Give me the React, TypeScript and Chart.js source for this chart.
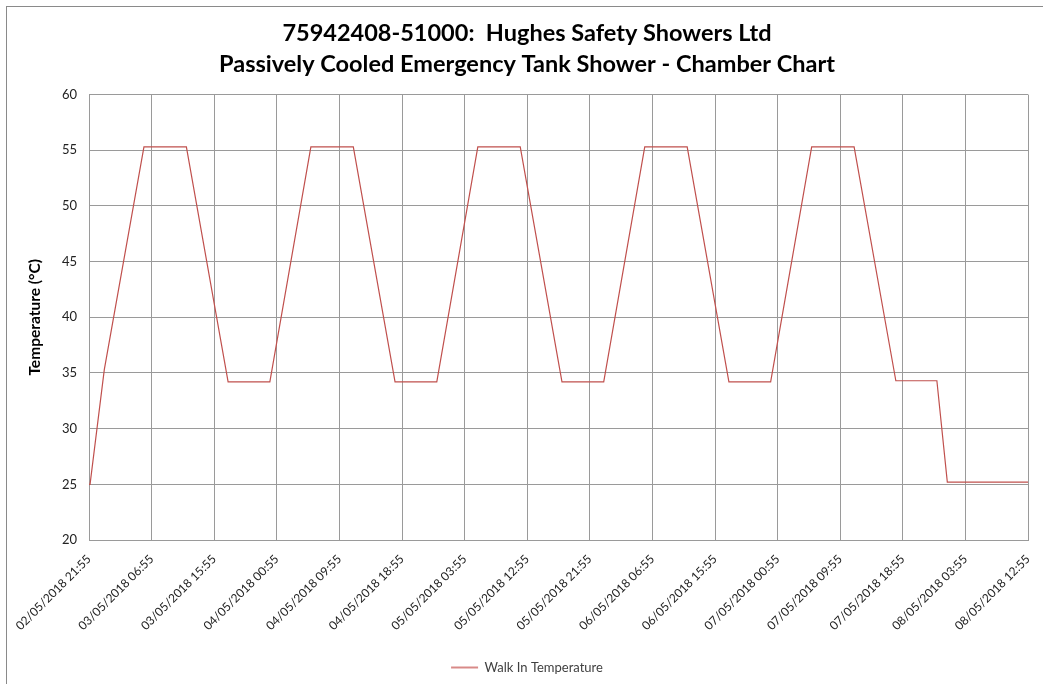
import React, { useEffect, useRef } from 'react';
import { Chart, registerables } from 'chart.js';

Chart.register(...registerables);

const titleLines = [
  '75942408-51000:  Hughes Safety Showers Ltd',
  'Passively Cooled Emergency Tank Shower - Chamber Chart',
];
const seriesName = 'Walk In Temperature';
const yAxisTitle = 'Temperature (°C)';

const tickLabels = [
  '02/05/2018 21:55',
  '03/05/2018 06:55',
  '03/05/2018 15:55',
  '04/05/2018 00:55',
  '04/05/2018 09:55',
  '04/05/2018 18:55',
  '05/05/2018 03:55',
  '05/05/2018 12:55',
  '05/05/2018 21:55',
  '06/05/2018 06:55',
  '06/05/2018 15:55',
  '07/05/2018 00:55',
  '07/05/2018 09:55',
  '07/05/2018 18:55',
  '08/05/2018 03:55',
  '08/05/2018 12:55',
];
const tickStepHours = 9;

// hours elapsed since 02/05/2018 21:55
const hoursSinceStart = [
  0, 0.15, 2.2, 7.9, 14.0, 20.0, 26.0, 31.9, 38.0, 44.0, 50.0, 55.9, 62.0,
  68.0, 74.0, 79.9, 86.0, 92.0, 98.0, 103.9, 110.0, 116.0, 121.9, 123.4, 135.0,
];
const temperatures = [
  25.0, 25.0, 35.3, 55.3, 55.3, 34.2, 34.2, 55.3, 55.3, 34.2, 34.2, 55.3, 55.3,
  34.2, 34.2, 55.3, 55.3, 34.2, 34.2, 55.3, 55.3, 34.3, 34.3, 25.2, 25.2,
];

const lineColor = '#C0504D';
const gridColor = '#9a9a9a';

export default function App() {
  const canvasRef = useRef<HTMLCanvasElement | null>(null);

  useEffect(() => {
    const canvas = canvasRef.current;
    if (!canvas) return;
    const points = hoursSinceStart.map((h, i) => ({ x: h, y: temperatures[i] }));
    const chart = new Chart(canvas, {
      type: 'line',
      data: {
        datasets: [
          {
            label: seriesName,
            data: points,
            borderColor: lineColor,
            backgroundColor: lineColor,
            borderWidth: 1.2,
            pointRadius: 0,
            tension: 0,
            fill: false,
          },
        ],
      },
      options: {
        animation: false,
        responsive: false,
        maintainAspectRatio: false,
        devicePixelRatio: 1,
        layout: { padding: { left: 26, right: 15, top: 0, bottom: 0 } },
        plugins: {
          tooltip: { enabled: false },
          title: {
            display: true,
            text: titleLines,
            color: '#000',
            font: { family: 'Lato', size: 23.5, weight: 'bold', lineHeight: 1.3 },
            padding: { top: 18.5, bottom: 15 },
          },
          legend: {
            display: true,
            position: 'bottom',
            labels: {
              font: { family: 'Lato', size: 13 },
              color: '#404040',
              boxWidth: 27,
              boxHeight: 2,
              padding: 10,
              generateLabels: (c: any) =>
                c.data.datasets.map((ds: any, i: number) => ({
                  text: ds.label,
                  fillStyle: '#D88A88',
                  strokeStyle: '#D88A88',
                  lineWidth: 0,
                  datasetIndex: i,
                  hidden: false,
                  fontColor: '#404040',
                })),
            },
          },
        },
        scales: {
          x: {
            type: 'linear',
            min: 0,
            max: 135,
            afterFit: (s: any) => {
              s.height = 111;
              s.paddingRight = 0;
              s.paddingLeft = 0;
            },
            ticks: {
              stepSize: tickStepHours,
              autoSkip: false,
              maxRotation: 45,
              minRotation: 45,
              padding: 12,
              color: '#222',
              font: { family: 'Lato', size: 12 },
              callback: (v: any) => tickLabels[Math.round(Number(v) / tickStepHours)] ?? '',
            },
            grid: { color: gridColor, lineWidth: 1, drawTicks: false },
            border: { color: gridColor },
          },
          y: {
            min: 20,
            max: 60,
            afterFit: (s: any) => {
              s.width = 63;
            },
            ticks: {
              stepSize: 5,
              padding: 12,
              color: '#222',
              font: { family: 'Lato', size: 13 },
            },
            title: {
              display: true,
              text: yAxisTitle,
              color: '#000',
              font: { family: 'Lato', size: 15.5, weight: 'bold' },
              padding: { top: 0, bottom: 0 },
            },
            grid: { color: gridColor, lineWidth: 1, drawTicks: false },
            border: { color: gridColor },
          },
        },
      },
    });
    return () => chart.destroy();
  }, []);

  return (
    <div
      style={{
        position: 'fixed',
        left: 0,
        top: 0,
        width: 1043,
        height: 684,
        background: '#fff',
        overflow: 'hidden',
      }}
    >
      <canvas ref={canvasRef} width={1043} height={684} style={{ display: 'block', width: 1043, height: 684 }} />
      <div
        style={{
          position: 'absolute',
          left: 6,
          top: 6,
          width: 1043,
          height: 684,
          borderTop: '1px solid #8a8a8a',
          borderLeft: '1px solid #8a8a8a',
          pointerEvents: 'none',
        }}
      />
    </div>
  );
}
